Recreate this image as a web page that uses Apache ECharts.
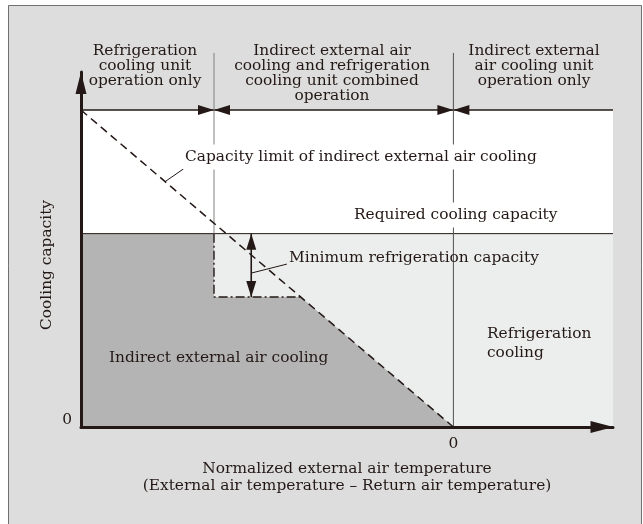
<!DOCTYPE html>
<html>
<head>
<meta charset="utf-8">
<script src="https://cdn.jsdelivr.net/npm/echarts@6/dist/echarts.min.js"></script>
<style>
  html, body { margin: 0; padding: 0; background: #fff; }
  #chart { width: 643px; height: 524px; }
</style>
</head>
<body>
<div id="chart"></div>
<script>
// schematic units: x = normalized external air temp (0 = return air temp), y = cooling capacity
const xRange = [-70, 30];
const yRange = [0, 112];
const xLabelValues = [0];
const yLabelValues = [0];

// capacity levels
const ceiling = 100;
const requiredCapacity = 61;
const minRefrigeration = 41;
const headerTop = 118;

// operation mode boundaries
const modeBounds = [-45, 0];

// outlines
const capacityLimit = [[-70, 100], [0, 0]];
const indirectArea = [[-70, 61], [-45, 61], [-45, 41], [-28.7, 41], [0, 0]];
const minStep = [[-45, 61], [-45, 41], [-28.7, 41]];
const minArrow = [[-38, 61], [-38, 41]];
const limitLeader = [[-54.2, 77.4], [-50.5, 81.7]];
const minLeader = [[-37.9, 48.6], [-31.3, 51.4]];

const ink = '#231815';
const serif = '"DejaVu Serif", serif';
const fs = 15.4;

const chart = echarts.init(document.getElementById('chart'));

function seg(data, style, extra) {
  return Object.assign({
    type: 'line',
    data: data,
    symbol: 'none',
    silent: true,
    lineStyle: Object.assign({ color: ink, width: 1 }, style),
    z: 3,
  }, extra || {});
}

function txt(x, y, text, opt) {
  opt = opt || {};
  return {
    type: 'text',
    x: x,
    y: y,
    z: 100,
    silent: true,
    rotation: opt.rotation || 0,
    style: {
      text: text,
      fill: ink,
      fontFamily: serif,
      fontSize: fs,
      lineHeight: opt.lineHeight || 15,
      align: opt.align || 'left',
      verticalAlign: opt.verticalAlign || 'middle',
      backgroundColor: opt.bg,
      padding: opt.bg ? [5, 2] : 0,
    },
  };
}

// arrow heads on the top line, tips on the mode boundaries
const topArrows = [];
modeBounds.forEach(function (x) {
  topArrows.push({ value: [x, ceiling], symbolRotate: -90, symbolOffset: [-8, 0] });
  topArrows.push({ value: [x, ceiling], symbolRotate: 90, symbolOffset: [8, 0] });
});
const minArrowHeads = [
  { value: minArrow[0], symbolRotate: 0, symbolOffset: [0, 8] },
  { value: minArrow[1], symbolRotate: 180, symbolOffset: [0, -8] },
];

const option = {
  backgroundColor: '#fff',
  animation: false,
  grid: { left: 81, top: 72, width: 532, height: 355 },
  xAxis: {
    type: 'value',
    min: xRange[0],
    max: xRange[1],
    interval: 10,
    z: 10,
    axisLine: {
      onZero: false,
      lineStyle: { color: ink, width: 3 },
      symbol: ['none', 'triangle'],
      symbolSize: [12, 23],
      symbolOffset: [0, -11],
    },
    axisTick: { show: false },
    splitLine: { show: false },
    axisLabel: {
      margin: 9,
      color: ink,
      fontFamily: serif,
      fontSize: fs,
      formatter: function (v) { return xLabelValues.indexOf(v) >= 0 ? String(v) : ''; },
    },
    name: 'Normalized external air temperature\n(External air temperature \u2013 Return air temperature)',
    nameLocation: 'middle',
    nameGap: 33,
    nameTextStyle: { color: ink, fontFamily: serif, fontSize: fs, lineHeight: 17 },
  },
  yAxis: {
    type: 'value',
    min: yRange[0],
    max: yRange[1],
    interval: yRange[1],
    z: 10,
    axisLine: {
      onZero: false,
      lineStyle: { color: ink, width: 3 },
      symbol: ['none', 'triangle'],
      symbolSize: [11, 22],
      symbolOffset: [0, -11],
    },
    axisTick: { show: false },
    splitLine: { show: false },
    axisLabel: {
      margin: 9,
      color: ink,
      fontFamily: serif,
      fontSize: fs,
      verticalAlign: 'bottom',
      formatter: function (v) { return yLabelValues.indexOf(v) >= 0 ? String(v) : ''; },
    },
  },
  graphic: [
    {
      type: 'rect',
      z: -100,
      silent: true,
      shape: { x: 8.5, y: 5.5, width: 633, height: 530 },
      style: { fill: '#dcdddc', stroke: '#707070', lineWidth: 1 },
    },
    txt(145, 43.5, 'Refrigeration\ncooling unit\noperation only', { align: 'center', verticalAlign: 'top' }),
    txt(332, 43.5, 'Indirect external air\ncooling and refrigeration\ncooling unit combined\noperation', { align: 'center', verticalAlign: 'top' }),
    txt(534, 43.5, 'Indirect external\nair cooling unit\noperation only', { align: 'center', verticalAlign: 'top' }),
    txt(183, 157, 'Capacity limit of indirect external air cooling', { bg: '#ffffff' }),
    txt(352, 215, 'Required cooling capacity', { bg: '#ffffff' }),
    txt(289, 258, 'Minimum refrigeration capacity'),
    txt(109, 358, 'Indirect external air cooling'),
    txt(487, 324, 'Refrigeration\ncooling', { verticalAlign: 'top', lineHeight: 19 }),
    txt(47, 265, 'Cooling capacity', { align: 'center', rotation: Math.PI / 2 }),
  ],
  series: [
    // white zone below the ceiling
    {
      type: 'line', silent: true, symbol: 'none', z: 1,
      data: [[xRange[0], ceiling], [xRange[1], ceiling]],
      lineStyle: { width: 0 },
      areaStyle: { color: '#ffffff', opacity: 1 },
    },
    // light grey zone below required capacity
    {
      type: 'line', silent: true, symbol: 'none', z: 1,
      data: [[xRange[0], requiredCapacity], [xRange[1], requiredCapacity]],
      lineStyle: { width: 0 },
      areaStyle: { color: '#eceeed', opacity: 1 },
    },
    // indirect external air cooling share
    {
      type: 'line', silent: true, symbol: 'none', z: 1,
      data: indirectArea,
      lineStyle: { width: 0 },
      areaStyle: { color: '#b4b4b4', opacity: 1 },
    },
    seg([[xRange[0], ceiling], [xRange[1], ceiling]], { width: 1.6 }),
    seg([[xRange[0], requiredCapacity], [xRange[1], requiredCapacity]], { width: 1 }),
    seg([[modeBounds[0], headerTop], [modeBounds[0], requiredCapacity]], { color: '#808080', width: 1 }, { clip: false }),
    seg([[modeBounds[1], headerTop], [modeBounds[1], yRange[0]]], { color: '#505050', width: 1 }, { clip: false }),
    seg(capacityLimit, { width: 1.5, type: [8, 5] }),
    seg(minStep, { width: 1.4, type: [9, 3, 2, 3] }),
    seg(minArrow, { width: 1.6 }),
    seg(limitLeader, { width: 1 }),
    seg(minLeader, { width: 1 }),
    {
      type: 'scatter', silent: true, z: 5,
      symbol: 'triangle', symbolSize: [10, 16],
      itemStyle: { color: ink, opacity: 1 },
      data: topArrows,
    },
    {
      type: 'scatter', silent: true, z: 5,
      symbol: 'triangle', symbolSize: [10, 16],
      itemStyle: { color: ink, opacity: 1 },
      data: minArrowHeads,
    },
  ],
};

chart.setOption(option);
</script>
</body>
</html>
